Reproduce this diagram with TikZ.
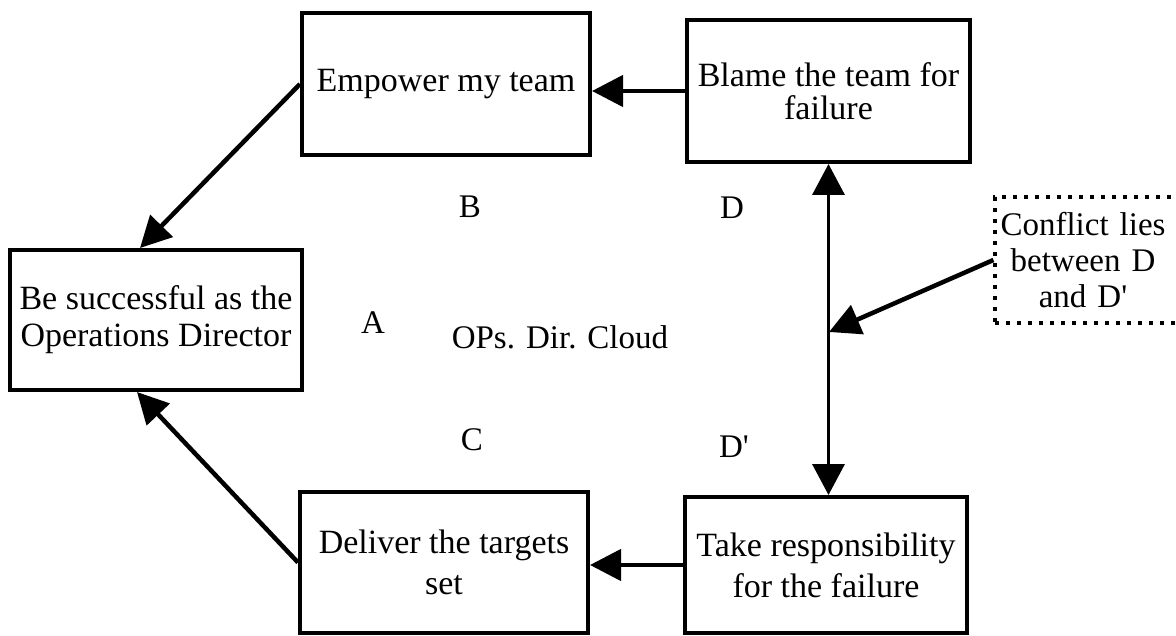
\documentclass[tikz,border=0pt]{standalone}
\usepackage{fontspec}
\setmainfont{Liberation Serif}
\usetikzlibrary{arrows.meta}
\begin{document}
\begin{tikzpicture}[x=1pt,y=-1pt,
  txt/.style={font=\fontsize{34}{37}\selectfont},
  box/.style={txt, draw, line width=4pt, inner sep=0pt, align=center},
  wide/.style={font=\fontsize{34}{41}\selectfont},
  tight/.style={font=\fontsize{34}{33}\selectfont},
  dotbox/.style={font=\fontsize{33}{36}\selectfont, draw, line width=3.2pt, dash pattern=on 4pt off 7pt, inner sep=0pt, align=center},
  lbl/.style={font=\fontsize{33}{36}\selectfont, inner sep=0pt},
  arr/.style={line width=4.5pt, -{Triangle[length=31pt,width=31pt]}},
  dbl/.style={line width=3.5pt, {Triangle[length=31pt,width=32pt]}-{Triangle[length=31pt,width=32pt]}}
]
\useasboundingbox (0,0) rectangle (1176,636);
\clip (0,0) rectangle (1176,636);

% the five goal boxes of the cloud
\node[box, minimum width=292pt, minimum height=140pt] (succ) at (156,320)
  {Be successful as the\\Operations Director};
\node[box, minimum width=288pt, minimum height=142pt] (emp) at (446,84)
  {Empower my team};
\node[box, tight, minimum width=283pt, minimum height=142pt] (blame) at (828.5,91)
  {Blame the team for\\failure};
\node[box, wide, minimum width=288pt, minimum height=141pt] (deliv) at (444,562.5)
  {Deliver the targets\\set};
\node[box, wide, minimum width=282pt, minimum height=136pt] (take) at (826,565)
  {Take responsibility\\for the failure};

% comment box, running off the right edge
\node[dotbox, minimum width=190pt, minimum height=126pt, text width=180pt] (conf) at (1090,260)
  {\hspace*{-14pt}Conflict lies\\\hspace*{-14pt}between D\\\hspace*{-14pt}and D\textquotesingle};

% letter labels
\node[lbl] (lA) at (373,323) {A};
\node[lbl] (lB) at (470,207) {B};
\node[lbl] (lC) at (472,440) {C};
\node[lbl] (lD) at (732,208) {D};
\node[lbl] (lDp) at (734,447) {D\textquotesingle};
\node[lbl] (cloud) at (560,337) {OPs. Dir. Cloud};

% connectors
\draw[arr] (blame.west) -- (blame.west -| emp.east);
\draw[arr] (take.west) -- (take.west -| deliv.east);
\draw[arr] (emp.west) -- ([xshift=-16pt]succ.north);
\draw[arr] (deliv.west) -- ([xshift=-19pt]succ.south);
\draw[dbl] (blame.south) -- (blame.south |- take.north);
\coordinate (mid) at (829,332);
\draw[arr] (conf.west) -- (mid);
\end{tikzpicture}
\end{document}
